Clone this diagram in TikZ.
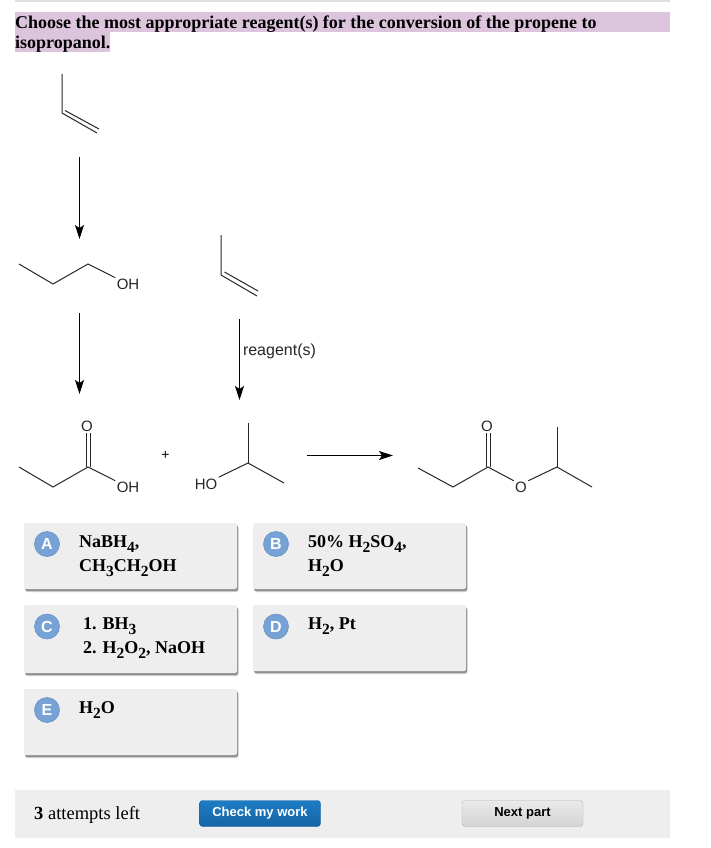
\documentclass[tikz,border=0pt]{standalone}
\usepackage{fontspec}
\setmainfont{Liberation Serif}
\setsansfont{Liberation Sans}
\usetikzlibrary{arrows.meta,shadows}
\definecolor{lilac}{HTML}{DDC4DD}
\definecolor{panelgray}{HTML}{EEEEEE}
\definecolor{badgeblue}{HTML}{76A2D6}
\definecolor{checktop}{HTML}{1E7CC4}
\definecolor{checkbot}{HTML}{1565A6}
\newcommand{\lowered}[1]{\raisebox{-0.28em}{\fontsize{15.5}{15.5}\selectfont #1}}
\tikzset{
  bond/.style={line width=1pt, color=black!85},
  rxn/.style={-{Stealth[length=14pt,width=9pt,inset=3pt]}, line width=1pt},
  atom/.style={font=\sffamily\fontsize{15}{15}\selectfont, inner sep=0pt, outer sep=1.5pt, text=black!85},
  panel/.style={fill=panelgray, rounded corners=2pt, minimum width=213pt, minimum height=66pt, inner sep=0pt,
    drop shadow={shadow xshift=1.5pt, shadow yshift=-3pt, fill=black!25, opacity=0.7},
    drop shadow={shadow xshift=1pt, shadow yshift=-2pt, fill=black!55, opacity=0.7}},
  badge/.style={circle, fill=badgeblue, draw=badgeblue!90!black, line width=0.6pt, minimum size=25pt, inner sep=0pt,
    text=white, font=\sffamily\bfseries\fontsize{16}{16}\selectfont},
  answer/.style={anchor=north west, inner sep=0pt, align=left, font=\bfseries\fontsize{18}{24}\selectfont},
  button/.style={rounded corners=3pt, minimum width=121pt, minimum height=26pt, inner sep=0pt,
    font=\sffamily\bfseries\fontsize{13}{13}\selectfont}
}
\begin{document}
\begin{tikzpicture}[x=1pt, y=-1pt]
  \useasboundingbox (0,0) rectangle (710,848);
  % page background and question
  \fill[black!12] (15,0) rectangle (670,2);
  \fill[lilac] (15,12) rectangle (670,32);
  \fill[lilac] (15,32) rectangle (110,52);
  \node[anchor=north west, inner sep=0pt, align=left, font=\bfseries\fontsize{18}{20}\selectfont] (question) at (15,15.5)
    {Choose the most appropriate reagent(s) for the conversion of the propene to\\isopropanol.};

  % propene, top left
  \coordinate (pa1) at (62,74);
  \coordinate (pa2) at (62,113);
  \coordinate (pa3) at (97,133);
  \coordinate (pa4) at (65,110.5);
  \coordinate (pa5) at (99,129);
  \draw[bond] (pa1) -- (pa2) -- (pa3);
  \draw[bond] (pa4) -- (pa5);

  \coordinate (arrA1) at (79.5,157);
  \coordinate (arrA2) at (79.5,239);
  \draw[rxn] (arrA1) -- (arrA2);

  % propanol
  \coordinate (ol1) at (19,264);
  \coordinate (ol2) at (53,284);
  \coordinate (ol3) at (88,264);
  \node[atom] (olOH) at (128,284.5) {OH};
  \draw[bond] (ol1) -- (ol2) -- (ol3) -- (olOH.north west);

  \coordinate (arrB1) at (79.5,313);
  \coordinate (arrB2) at (79.5,394);
  \draw[rxn] (arrB1) -- (arrB2);

  % propene, middle
  \coordinate (pb1) at (221,235);
  \coordinate (pb2) at (221,275);
  \coordinate (pb3) at (257,296);
  \coordinate (pb4) at (224.5,272);
  \coordinate (pb5) at (258,291);
  \draw[bond] (pb1) -- (pb2) -- (pb3);
  \draw[bond] (pb4) -- (pb5);

  \coordinate (arrC1) at (239.5,319);
  \coordinate (arrC2) at (239.5,400);
  \draw[rxn] (arrC1) -- node[right=3pt, pos=0.405, inner sep=0pt, font=\sffamily\fontsize{16}{16}\selectfont, text=black!85] (lblReagent) {reagent(s)} (arrC2);

  % propanoic acid
  \coordinate (ac1) at (19,467);
  \coordinate (ac2) at (53,487);
  \coordinate (ac3) at (88,467);
  \coordinate (ac4) at (86,467);
  \coordinate (ac5) at (90,467);
  \node[atom] (acO) at (87,426.5) {O};
  \node[atom] (acOH) at (128,487.5) {OH};
  \draw[bond] (ac1) -- (ac2) -- (ac3) -- (acOH.north west);
  \draw[bond] (ac4) -- (ac4 |- acO.south);
  \draw[bond] (ac5) -- (ac5 |- acO.south);

  \node[inner sep=0pt, font=\sffamily\fontsize{14}{14}\selectfont] (plus) at (165.5,455) {+};

  % isopropanol
  \node[atom] (isoOH) at (206,484) {HO};
  \coordinate (iso1) at (248,463);
  \coordinate (iso2) at (284,483);
  \coordinate (iso3) at (248,423);
  \draw[bond] (isoOH.north east) -- (iso1) -- (iso2);
  \draw[bond] (iso1) -- (iso3);

  \coordinate (arrD1) at (307,455.5);
  \coordinate (arrD2) at (393,455.5);
  \draw[rxn] (arrD1) -- (arrD2);

  % ester
  \coordinate (es1) at (418,468);
  \coordinate (es2) at (453,487);
  \coordinate (es3) at (488,467);
  \coordinate (es4) at (486,467);
  \coordinate (es5) at (490,467);
  \node[atom] (esO) at (487,426.5) {O};
  \node[atom] (esOb) at (521,487.5) {O};
  \coordinate (es6) at (557,467);
  \coordinate (es7) at (592,487);
  \coordinate (es8) at (557,427);
  \draw[bond] (es1) -- (es2) -- (es3) -- (esOb.north west);
  \draw[bond] (es4) -- (es4 |- esO.south);
  \draw[bond] (es5) -- (es5 |- esO.south);
  \draw[bond] (esOb.north east) -- (es6) -- (es7);
  \draw[bond] (es6) -- (es8);

  % answer panels
  \node[panel] (panelA) at (130.5,556) {};
  \node[panel] (panelB) at (359.5,556) {};
  \node[panel, minimum height=68pt] (panelC) at (130.5,639) {};
  \node[panel] (panelD) at (359.5,638) {};
  \node[panel] (panelE) at (130.5,722) {};

  \node[badge] (badgeA) at (47,544) {A};
  \node[badge] (badgeB) at (276,544) {B};
  \node[badge] (badgeC) at (47,626.5) {C};
  \node[badge] (badgeD) at (276,626.5) {D};
  \node[badge] (badgeE) at (47,710) {E};

  \node[answer] (optA) at (79,535.5) {NaBH\lowered{4},\\CH\lowered{3}CH\lowered{2}OH};
  \node[answer] (optB) at (308,535.5) {50\% H\lowered{2}SO\lowered{4},\\H\lowered{2}O};
  \node[answer] (optC) at (83,617.5) {1. BH\lowered{3}\\2. H\lowered{2}O\lowered{2}, NaOH};
  \node[answer] (optD) at (308,617.5) {H\lowered{2}, Pt};
  \node[answer] (optE) at (79,701.5) {H\lowered{2}O};

  % bottom bar
  \fill[panelgray] (15,790) rectangle (670,838);
  \node[anchor=base west, inner sep=0pt, font=\fontsize{18.5}{18.5}\selectfont] (attempts) at (34,819) {\textbf{3} attempts left};
  \node[button, top color=checktop, bottom color=checkbot, draw=checkbot, text=white] (btnCheck) at (260,813.5) {Check my work};
  \node[button, top color=black!8, bottom color=black!17, draw=black!30, text=black] (btnNext) at (522.5,813.5) {Next part};
\end{tikzpicture}
\end{document}
